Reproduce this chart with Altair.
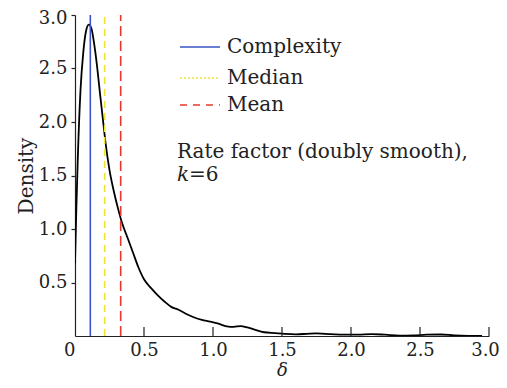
import altair as alt
import pandas as pd

# ---- data ----
delta = [0.0, 0.01, 0.02, 0.04, 0.06, 0.08, 0.10, 0.12, 0.14, 0.16, 0.18, 0.20,
         0.22, 0.25, 0.28, 0.31, 0.34, 0.38, 0.42, 0.46, 0.50, 0.55, 0.60, 0.65,
         0.70, 0.75, 0.80, 0.86, 0.92, 0.98, 1.04, 1.10, 1.15, 1.20, 1.25, 1.30,
         1.37, 1.45, 1.52, 1.60, 1.68, 1.75, 1.85, 1.95, 2.05, 2.15, 2.25, 2.35,
         2.45, 2.55, 2.65, 2.75, 2.85, 2.95]
density = [0.68, 1.20, 1.65, 2.30, 2.65, 2.85, 2.91, 2.87, 2.72, 2.52, 2.28, 2.05,
           1.82, 1.55, 1.36, 1.20, 1.06, 0.92, 0.78, 0.64, 0.53, 0.45, 0.38, 0.32,
           0.27, 0.245, 0.21, 0.175, 0.15, 0.135, 0.115, 0.09, 0.085, 0.093, 0.08, 0.06,
           0.035, 0.027, 0.02, 0.016, 0.02, 0.024, 0.018, 0.012, 0.012, 0.018, 0.012, 0.004,
           0.006, 0.012, 0.014, 0.006, 0.002, 0.001]

ref_names = ["Complexity", "Median", "Mean"]
ref_values = [0.111, 0.215, 0.331]
ref_colors = ["#3b55c4", "#f2e230", "#e8382d"]
ref_dash_plot = [[1, 0], [7, 5], [10, 5]]
ref_dash_legend = [[1, 0], [2, 2], [7, 6]]

x_ticks = [0.0, 0.5, 1.0, 1.5, 2.0, 2.5, 3.0]
y_ticks = [0.5, 1.0, 1.5, 2.0, 2.5, 3.0]
annotation_line1 = "Rate factor (doubly smooth),"
annotation_k = "k"
annotation_rest = "=6"

# ---- layout ----
W, H = 414, 321
FONT = "DejaVu Serif"
FS = 20
LFS = 18
INK = "#222"

xscale = alt.Scale(domain=[0, 3], nice=False, zero=False)
yscale = alt.Scale(domain=[0, 3], nice=False, zero=False)

xaxis = alt.Axis(
    values=x_ticks, ticks=False, grid=False, domain=True,
    domainColor=INK, domainWidth=1.2,
    labelExpr="datum.value == 0 ? '0\u2009' : format(datum.value, '.1f')",
    labelAlign={"condition": {"test": "datum.value == 0", "value": "right"}, "value": "center"},
    labelOffset={"condition": {"test": "datum.value == 3", "value": -4}, "value": 0},
    labelFont=FONT, labelFontSize=LFS, labelColor=INK, labelPadding=5,
    title="δ", titleFont=FONT, titleFontSize=18, titleFontStyle="italic",
    titleFontWeight="normal", titleColor=INK,
    titleX=W / 2, titleY=43.5, titleBaseline="bottom", titleAlign="center")
yaxis = alt.Axis(
    values=y_ticks, format=".1f", grid=False, domain=True,
    domainColor=INK, domainWidth=1.2, tickColor=INK, tickSize=4,
    tickWidth=1.2, labelPadding=4,
    labelOffset={"condition": {"test": "datum.value == 3", "value": 3}, "value": 0},
    labelFont=FONT, labelFontSize=LFS, labelColor=INK,
    title="Density", titleFont=FONT, titleFontSize=FS, titleFontWeight="normal",
    titleColor=INK, titleX=-49, titleY=H / 2, titleAngle=-90,
    titleAlign="center", titleBaseline="middle")

curve_df = pd.DataFrame({"delta": delta, "density": density})

curve = alt.Chart(curve_df).mark_line(
    color="black", strokeWidth=1.8, interpolate="monotone", clip=True
).encode(
    x=alt.X("delta:Q", scale=xscale, axis=xaxis),
    y=alt.Y("density:Q", scale=yscale, axis=yaxis),
)

# inward ticks on the x axis
tick_df = pd.DataFrame({"delta": x_ticks[1:]})
xticks_layer = alt.Chart(tick_df).mark_rule(color=INK, strokeWidth=1.2).encode(
    x=alt.X("delta:Q", scale=xscale, axis=xaxis),
    y=alt.value(H),
    y2=alt.value(H - 9),
)

layers = [curve, xticks_layer]

legend_y = [32, 63, 90]
for name, val, col, dp, dl, ly in zip(ref_names, ref_values, ref_colors,
                                      ref_dash_plot, ref_dash_legend, legend_y):
    df = pd.DataFrame({"delta": [val], "density": [0.0], "top": [3.0], "name": [name]})
    layers.append(alt.Chart(df).mark_rule(color=col, strokeWidth=1.6, strokeDash=dp).encode(
        x=alt.X("delta:Q", scale=xscale, axis=xaxis),
        y=alt.Y("density:Q", scale=yscale, axis=yaxis),
        y2="top:Q",
    ))
    layers.append(alt.Chart(df).mark_rule(color=col, strokeWidth=1.6, strokeDash=dl).encode(
        x=alt.value(105), x2=alt.value(145), y=alt.value(ly),
    ))
    layers.append(alt.Chart(df).mark_text(
        align="left", baseline="middle", font=FONT, fontSize=FS, color=INK
    ).encode(x=alt.value(152), y=alt.value(ly), text="name:N"))

ann_df = pd.DataFrame({"a": [annotation_line1], "k": [annotation_k], "r": [annotation_rest]})
layers.append(alt.Chart(ann_df).mark_text(
    align="left", baseline="alphabetic", font=FONT, fontSize=FS, color=INK
).encode(x=alt.value(102), y=alt.value(143), text="a:N"))
layers.append(alt.Chart(ann_df).mark_text(
    align="left", baseline="alphabetic", font=FONT, fontSize=FS, fontStyle="italic", color=INK
).encode(x=alt.value(102), y=alt.value(166), text="k:N"))
layers.append(alt.Chart(ann_df).mark_text(
    align="left", baseline="alphabetic", font=FONT, fontSize=FS, color=INK
).encode(x=alt.value(114), y=alt.value(166), text="r:N"))

chart = alt.layer(*layers).properties(
    width=W, height=H,
    background="white",
    autosize=alt.AutoSizeParams(type="none"),
    padding={"left": 67, "top": 7, "right": 10, "bottom": 44},
).configure_view(strokeWidth=0, stroke="transparent")

chart.save("out.html", embed_options={"renderer": "svg", "actions": False})
